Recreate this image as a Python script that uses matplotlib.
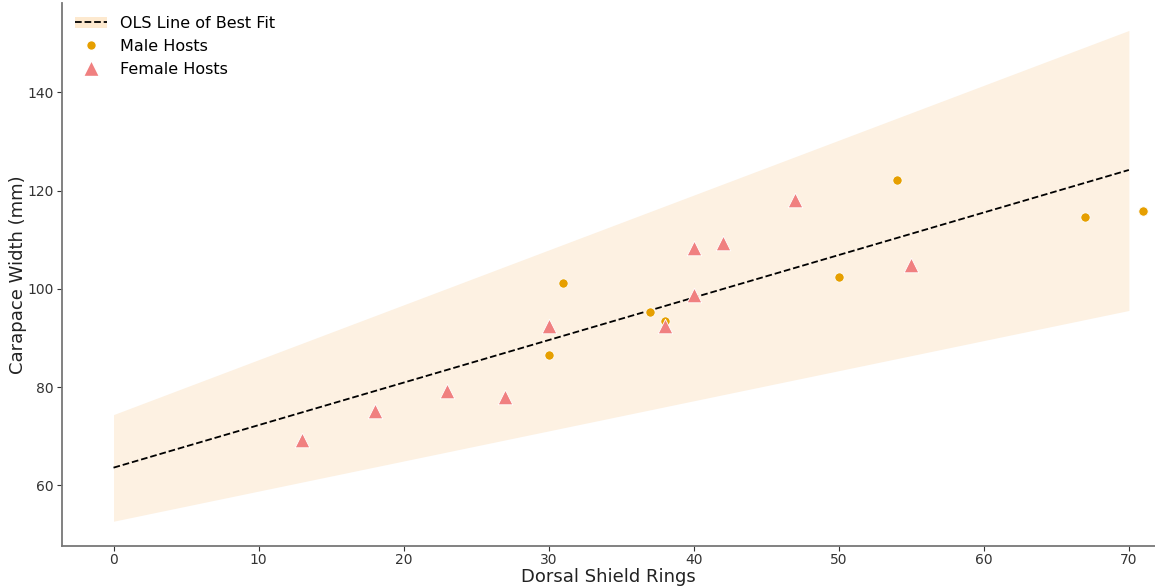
import matplotlib
matplotlib.use("Agg")
import matplotlib.pyplot as plt
import numpy as np
from matplotlib.patches import Patch
from matplotlib.lines import Line2D

male_rings = [30, 31, 37, 38, 50, 54, 67, 71]
male_width = [86.5, 101.2, 95.2, 93.4, 102.5, 122.2, 114.6, 115.8]
female_rings = [13, 18, 23, 27, 30, 38, 40, 40, 42, 47, 55]
female_width = [69.3, 75.2, 79.2, 78.0, 92.4, 92.4, 108.4, 98.7, 109.4, 118.1, 104.8]

fit_x = [0, 70]
fit_y = [63.6, 124.2]
band_lower = [52.7, 95.6]
band_upper = [74.4, 152.6]

fig = plt.figure(figsize=(11.55, 5.88), dpi=100)
ax = fig.add_axes([0.0537, 0.0714, 0.9463, 0.9236])

band_color = "#fdf1e2"
ax.fill_between(fit_x, band_lower, band_upper, color=band_color, linewidth=0, zorder=1)
ax.plot(fit_x, fit_y, ls="--", color="black", lw=1.3, zorder=2)
ax.scatter(male_rings, male_width, s=45, marker="o", color="#e69f00",
           edgecolor="white", linewidth=0.6, zorder=3)
ax.scatter(female_rings, female_width, s=110, marker="^", color="#f08080",
           edgecolor="white", linewidth=0.6, zorder=4)

ax.set_xlim(-3.55, 71.8)
ax.set_ylim(47.65, 158.2)
ax.set_xticks([0, 10, 20, 30, 40, 50, 60, 70])
ax.set_yticks([60, 80, 100, 120, 140])
ax.set_xlabel("Dorsal Shield Rings", fontsize=13, color="#222222", labelpad=0.5)
ax.set_ylabel("Carapace Width (mm)", fontsize=13, color="#222222", labelpad=0.5)
ax.tick_params(colors="#333333", labelsize=10, length=3.5)
ax.tick_params(axis="x", pad=1.5)
ax.tick_params(axis="y", pad=2.5)
for s in ["top", "right"]:
    ax.spines[s].set_visible(False)
for s in ["left", "bottom"]:
    ax.spines[s].set_color("#777777")
    ax.spines[s].set_linewidth(1.3)

h_ols = (Patch(facecolor="#fde9cf", edgecolor="none"),
         Line2D([], [], ls="--", color="black", lw=1.3))
h_m = Line2D([], [], ls="none", marker="o", markersize=7, color="#e69f00", markeredgecolor="white")
h_f = Line2D([], [], ls="none", marker="^", markersize=11, color="#f08080", markeredgecolor="white")
ax.legend([h_ols, h_m, h_f], ["OLS Line of Best Fit", "Male Hosts", "Female Hosts"],
          loc="upper left", frameon=False, fontsize=11.5, handlelength=2.0,
          borderaxespad=0.4, labelspacing=0.5)

fig.savefig("out.png", dpi=100)
